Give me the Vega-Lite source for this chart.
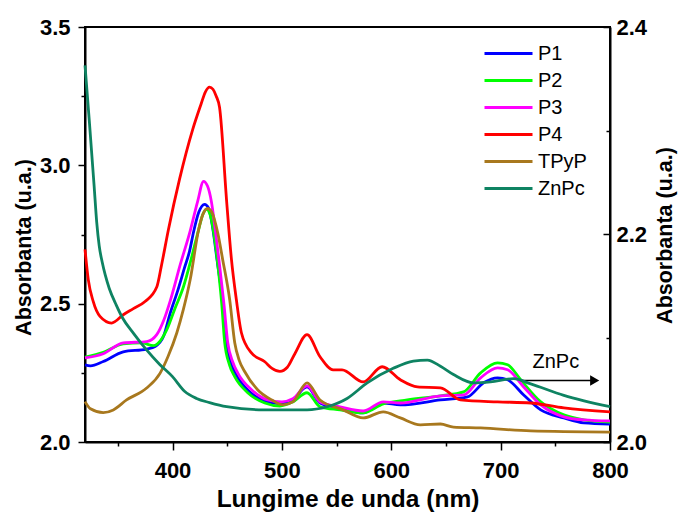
{
  "$schema": "https://vega.github.io/schema/vega-lite/v6.json",
  "width": 525,
  "height": 415,
  "autosize": {"type": "none"},
  "padding": {"left": 85, "top": 27, "right": 68, "bottom": 70},
  "background": "white",
  "config": {
    "font": "Liberation Sans",
    "view": {"stroke": "black", "strokeWidth": 2},
    "axis": {
      "grid": false, "domainColor": "black", "domainWidth": 2, "tickColor": "black", "tickWidth": 1.5,
      "labelColor": "black", "labelFont": "Liberation Sans", "labelFontSize": 22, "labelFontWeight": "bold",
      "titleColor": "black", "titleFont": "Liberation Sans", "titleFontSize": 24, "titleFontWeight": "bold",
      "labelOverlap": false, "labelFlush": false, "labelBound": false
    }
  },
  "datasets": {
    "main": [
      {"s":"P1","x":320,"y":2.279},{"s":"P1","x":325,"y":2.275},{"s":"P1","x":336.7,"y":2.291},{"s":"P1","x":355,"y":2.326},{"s":"P1","x":376.4,"y":2.336},{"s":"P1","x":384.1,"y":2.345},{"s":"P1","x":391.8,"y":2.382},{"s":"P1","x":397.9,"y":2.466},{"s":"P1","x":405,"y":2.55},{"s":"P1","x":411,"y":2.63},{"s":"P1","x":415.6,"y":2.69},{"s":"P1","x":419.3,"y":2.76},{"s":"P1","x":424,"y":2.83},{"s":"P1","x":429.4,"y":2.859},{"s":"P1","x":433,"y":2.845},{"s":"P1","x":436.5,"y":2.78},{"s":"P1","x":441,"y":2.65},{"s":"P1","x":446,"y":2.5},{"s":"P1","x":449,"y":2.36},{"s":"P1","x":453,"y":2.29},{"s":"P1","x":458,"y":2.245},{"s":"P1","x":470,"y":2.183},{"s":"P1","x":485,"y":2.148},{"s":"P1","x":498.2,"y":2.138},{"s":"P1","x":510,"y":2.152},{"s":"P1","x":523,"y":2.199},{"s":"P1","x":534.9,"y":2.141},{"s":"P1","x":553.2,"y":2.123},{"s":"P1","x":574.3,"y":2.105},{"s":"P1","x":592.7,"y":2.141},{"s":"P1","x":608.3,"y":2.134},{"s":"P1","x":645,"y":2.152},{"s":"P1","x":669.7,"y":2.163},{"s":"P1","x":684.4,"y":2.214},{"s":"P1","x":697.2,"y":2.232},{"s":"P1","x":706.4,"y":2.225},{"s":"P1","x":721.1,"y":2.17},{"s":"P1","x":736.7,"y":2.116},{"s":"P1","x":757.8,"y":2.087},{"s":"P1","x":776.1,"y":2.069},{"s":"P1","x":800,"y":2.065},
      {"s":"P2","x":320,"y":2.307},{"s":"P2","x":336.7,"y":2.324},{"s":"P2","x":355,"y":2.355},{"s":"P2","x":371.9,"y":2.358},{"s":"P2","x":382.6,"y":2.348},{"s":"P2","x":394.8,"y":2.406},{"s":"P2","x":402,"y":2.48},{"s":"P2","x":410.1,"y":2.562},{"s":"P2","x":417,"y":2.66},{"s":"P2","x":423.9,"y":2.768},{"s":"P2","x":427.5,"y":2.82},{"s":"P2","x":431.2,"y":2.841},{"s":"P2","x":434.5,"y":2.82},{"s":"P2","x":439,"y":2.72},{"s":"P2","x":442,"y":2.62},{"s":"P2","x":445,"y":2.5},{"s":"P2","x":447.7,"y":2.36},{"s":"P2","x":452,"y":2.28},{"s":"P2","x":456.9,"y":2.236},{"s":"P2","x":468.8,"y":2.178},{"s":"P2","x":484.4,"y":2.141},{"s":"P2","x":498.2,"y":2.13},{"s":"P2","x":510,"y":2.145},{"s":"P2","x":523,"y":2.178},{"s":"P2","x":534.9,"y":2.127},{"s":"P2","x":553.2,"y":2.116},{"s":"P2","x":574.3,"y":2.105},{"s":"P2","x":592.7,"y":2.138},{"s":"P2","x":614.7,"y":2.152},{"s":"P2","x":645,"y":2.167},{"s":"P2","x":666.1,"y":2.181},{"s":"P2","x":681.7,"y":2.25},{"s":"P2","x":697.2,"y":2.286},{"s":"P2","x":706.4,"y":2.279},{"s":"P2","x":718.3,"y":2.225},{"s":"P2","x":736.7,"y":2.145},{"s":"P2","x":757.8,"y":2.098},{"s":"P2","x":776.1,"y":2.08},{"s":"P2","x":800,"y":2.072},
      {"s":"P3","x":320,"y":2.304},{"s":"P3","x":336.7,"y":2.319},{"s":"P3","x":355,"y":2.358},{"s":"P3","x":376.4,"y":2.363},{"s":"P3","x":385.6,"y":2.388},{"s":"P3","x":392,"y":2.44},{"s":"P3","x":398.2,"y":2.514},{"s":"P3","x":407,"y":2.64},{"s":"P3","x":416.5,"y":2.768},{"s":"P3","x":423,"y":2.87},{"s":"P3","x":428.4,"y":2.942},{"s":"P3","x":432,"y":2.925},{"s":"P3","x":435.5,"y":2.87},{"s":"P3","x":439,"y":2.77},{"s":"P3","x":443,"y":2.64},{"s":"P3","x":447,"y":2.5},{"s":"P3","x":450.5,"y":2.36},{"s":"P3","x":455,"y":2.29},{"s":"P3","x":459.6,"y":2.25},{"s":"P3","x":472.5,"y":2.188},{"s":"P3","x":487,"y":2.152},{"s":"P3","x":500,"y":2.145},{"s":"P3","x":510,"y":2.156},{"s":"P3","x":523,"y":2.203},{"s":"P3","x":534.9,"y":2.145},{"s":"P3","x":553.2,"y":2.127},{"s":"P3","x":574.3,"y":2.112},{"s":"P3","x":592.7,"y":2.145},{"s":"P3","x":608.3,"y":2.141},{"s":"P3","x":645,"y":2.167},{"s":"P3","x":666.1,"y":2.17},{"s":"P3","x":681.7,"y":2.232},{"s":"P3","x":697.2,"y":2.268},{"s":"P3","x":706.4,"y":2.261},{"s":"P3","x":721.1,"y":2.199},{"s":"P3","x":736.7,"y":2.134},{"s":"P3","x":757.8,"y":2.091},{"s":"P3","x":776.1,"y":2.08},{"s":"P3","x":800,"y":2.076},
      {"s":"P4","x":320,"y":2.696},{"s":"P4","x":323,"y":2.587},{"s":"P4","x":327.5,"y":2.508},{"s":"P4","x":333.7,"y":2.454},{"s":"P4","x":344.3,"y":2.43},{"s":"P4","x":355,"y":2.46},{"s":"P4","x":364.2,"y":2.482},{"s":"P4","x":374.9,"y":2.508},{"s":"P4","x":385.6,"y":2.56},{"s":"P4","x":390,"y":2.64},{"s":"P4","x":396.3,"y":2.768},{"s":"P4","x":406.4,"y":2.949},{"s":"P4","x":418.5,"y":3.13},{"s":"P4","x":426,"y":3.22},{"s":"P4","x":430,"y":3.265},{"s":"P4","x":433.9,"y":3.283},{"s":"P4","x":437,"y":3.275},{"s":"P4","x":440,"y":3.25},{"s":"P4","x":443,"y":3.21},{"s":"P4","x":449.5,"y":2.87},{"s":"P4","x":453.9,"y":2.66},{"s":"P4","x":458.4,"y":2.514},{"s":"P4","x":463,"y":2.395},{"s":"P4","x":472.2,"y":2.322},{"s":"P4","x":484.4,"y":2.29},{"s":"P4","x":491,"y":2.266},{"s":"P4","x":498.2,"y":2.255},{"s":"P4","x":505,"y":2.27},{"s":"P4","x":512,"y":2.32},{"s":"P4","x":523,"y":2.388},{"s":"P4","x":534.9,"y":2.308},{"s":"P4","x":546.8,"y":2.261},{"s":"P4","x":555,"y":2.261},{"s":"P4","x":574.3,"y":2.217},{"s":"P4","x":591.7,"y":2.272},{"s":"P4","x":608.3,"y":2.225},{"s":"P4","x":623.9,"y":2.199},{"s":"P4","x":645,"y":2.196},{"s":"P4","x":663.3,"y":2.152},{"s":"P4","x":697.2,"y":2.145},{"s":"P4","x":727.5,"y":2.141},{"s":"P4","x":757.8,"y":2.123},{"s":"P4","x":800,"y":2.109},
      {"s":"TPyP","x":320,"y":2.146},{"s":"TPyP","x":325,"y":2.12},{"s":"TPyP","x":336.7,"y":2.106},{"s":"TPyP","x":345.9,"y":2.116},{"s":"TPyP","x":358,"y":2.152},{"s":"TPyP","x":376.4,"y":2.195},{"s":"TPyP","x":388.7,"y":2.249},{"s":"TPyP","x":396,"y":2.31},{"s":"TPyP","x":403.9,"y":2.394},{"s":"TPyP","x":410,"y":2.48},{"s":"TPyP","x":416.2,"y":2.587},{"s":"TPyP","x":423.9,"y":2.768},{"s":"TPyP","x":428,"y":2.825},{"s":"TPyP","x":432.1,"y":2.844},{"s":"TPyP","x":436,"y":2.83},{"s":"TPyP","x":441.3,"y":2.757},{"s":"TPyP","x":445.9,"y":2.659},{"s":"TPyP","x":452.3,"y":2.514},{"s":"TPyP","x":456.9,"y":2.359},{"s":"TPyP","x":461,"y":2.295},{"s":"TPyP","x":466.1,"y":2.254},{"s":"TPyP","x":478,"y":2.188},{"s":"TPyP","x":490.8,"y":2.152},{"s":"TPyP","x":500.9,"y":2.134},{"s":"TPyP","x":510,"y":2.145},{"s":"TPyP","x":523,"y":2.214},{"s":"TPyP","x":534.9,"y":2.152},{"s":"TPyP","x":556,"y":2.116},{"s":"TPyP","x":574.3,"y":2.087},{"s":"TPyP","x":592.7,"y":2.109},{"s":"TPyP","x":608.3,"y":2.087},{"s":"TPyP","x":626.6,"y":2.062},{"s":"TPyP","x":645,"y":2.065},{"s":"TPyP","x":656.9,"y":2.054},{"s":"TPyP","x":681.7,"y":2.051},{"s":"TPyP","x":727.5,"y":2.04},{"s":"TPyP","x":800,"y":2.036}
    ],
    "znpc": [
      {"s":"ZnPc","x":320,"y":2.363},{"s":"ZnPc","x":323.9,"y":2.31},{"s":"ZnPc","x":328.4,"y":2.246},{"s":"ZnPc","x":330.7,"y":2.212},{"s":"ZnPc","x":333,"y":2.189},{"s":"ZnPc","x":335.8,"y":2.173},{"s":"ZnPc","x":338.5,"y":2.161},{"s":"ZnPc","x":342.2,"y":2.148},{"s":"ZnPc","x":348.6,"y":2.132},{"s":"ZnPc","x":354.1,"y":2.12},{"s":"ZnPc","x":364.2,"y":2.105},{"s":"ZnPc","x":376.1,"y":2.089},{"s":"ZnPc","x":388.1,"y":2.075},{"s":"ZnPc","x":400,"y":2.063},{"s":"ZnPc","x":411,"y":2.049},{"s":"ZnPc","x":422,"y":2.042},{"s":"ZnPc","x":433.9,"y":2.038},{"s":"ZnPc","x":449.5,"y":2.034},{"s":"ZnPc","x":483.5,"y":2.031},{"s":"ZnPc","x":523,"y":2.031},{"s":"ZnPc","x":541.3,"y":2.034},{"s":"ZnPc","x":559.6,"y":2.042},{"s":"ZnPc","x":578,"y":2.057},{"s":"ZnPc","x":601.8,"y":2.071},{"s":"ZnPc","x":620.2,"y":2.078},{"s":"ZnPc","x":633,"y":2.079},{"s":"ZnPc","x":645,"y":2.073},{"s":"ZnPc","x":656.9,"y":2.065},{"s":"ZnPc","x":675.2,"y":2.057},{"s":"ZnPc","x":690.8,"y":2.058},{"s":"ZnPc","x":711.9,"y":2.061},{"s":"ZnPc","x":727.5,"y":2.056},{"s":"ZnPc","x":757.8,"y":2.045},{"s":"ZnPc","x":800,"y":2.034}
    ],
    "note": [{"x": 750.5, "y": 2.29, "t": "ZnPc"}],
    "arrow": [{"x": 718, "x2": 787, "y": 2.222}],
    "head": [{"x": 786, "y": 2.222}]
  },
  "layer": [
    {
      "layer": [
        {
          "data": {"name": "main"},
          "mark": {"type": "line", "strokeWidth": 2.8, "interpolate": "monotone"},
          "encoding": {
            "x": {"field": "x", "type": "quantitative",
              "scale": {"domain": [320, 800], "nice": false, "zero": false},
              "axis": {"title": "Lungime de unda (nm)", "values": [350,400,450,500,550,600,650,700,750,800], "format": "d",
                "labelExpr": "datum.value % 100 === 0 ? datum.label : ''",
                "tickSize": {"condition": {"test": "datum.value % 100 === 0", "value": 8}, "value": 4},
                "labelPadding": 10, "titlePadding": 6, "titleFontSize": 24.5}},
            "y": {"field": "y", "type": "quantitative",
              "scale": {"domain": [2, 3.5], "nice": false, "zero": false},
              "axis": {"title": "Absorbanta (u.a.)", "values": [2,2.25,2.5,2.75,3,3.25,3.5], "format": ".1f",
                "labelExpr": "abs(datum.value*2 - round(datum.value*2)) < 0.001 ? datum.label : ''",
                "tickSize": {"condition": {"test": "abs(datum.value*2 - round(datum.value*2)) < 0.001", "value": 7}, "value": 4},
                "labelPadding": 8, "titleFontSize": 21.5,
                "titleX": -61, "titleY": 220, "titleAlign": "center", "titleBaseline": "middle", "titleAngle": 270}},
            "color": {"field": "s", "type": "nominal",
              "scale": {"domain": ["P1","P2","P3","P4","TPyP","ZnPc"], "range": ["#0000FF","#00FF00","#FF00FF","#FF0000","#A8781E","#0E8362"]},
              "legend": {"title": null, "orient": "none", "legendX": 410, "legendY": 13, "symbolType": "M-2,0H2", "symbolSize": 576, "symbolStrokeWidth": 3,
                "labelFont": "Liberation Sans", "labelFontSize": 20, "labelColor": "black", "labelOffset": 16, "rowPadding": 3}}
          }
        },
        {
          "data": {"name": "arrow"},
          "mark": {"type": "rule", "strokeWidth": 1.5, "color": "black"},
          "encoding": {"x": {"field": "x", "type": "quantitative"}, "x2": {"field": "x2"}, "y": {"field": "y", "type": "quantitative"}}
        },
        {
          "data": {"name": "head"},
          "mark": {"type": "point", "shape": "triangle-right", "filled": true, "color": "black", "size": 110, "opacity": 1},
          "encoding": {"x": {"field": "x", "type": "quantitative"}, "y": {"field": "y", "type": "quantitative"}}
        },
        {
          "data": {"name": "note"},
          "mark": {"type": "text", "fontSize": 20, "font": "Liberation Sans", "color": "black", "align": "center", "baseline": "middle"},
          "encoding": {"x": {"field": "x", "type": "quantitative"}, "y": {"field": "y", "type": "quantitative"}, "text": {"field": "t"}}
        }
      ]
    },
    {
      "data": {"name": "znpc"},
      "mark": {"type": "line", "strokeWidth": 2.8, "interpolate": "monotone"},
      "encoding": {
        "x": {"field": "x", "type": "quantitative"},
        "y": {"field": "y", "type": "quantitative",
          "scale": {"domain": [2, 2.4], "nice": false, "zero": false},
          "axis": {"orient": "right", "title": "Absorbanta (u.a.)", "values": [2,2.1,2.2,2.3,2.4], "format": ".1f",
            "labelExpr": "round(datum.value*10) % 2 === 0 ? datum.label : ''",
            "tickSize": {"condition": {"test": "round(datum.value*10) % 2 === 0", "value": -7}, "value": -4},
            "labelPadding": 13, "titleFontSize": 21.5,
            "titleX": 55, "titleY": 208, "titleAlign": "center", "titleBaseline": "middle", "titleAngle": 270}},
        "color": {"field": "s", "type": "nominal"}
      }
    }
  ],
  "resolve": {"scale": {"y": "independent"}}
}
